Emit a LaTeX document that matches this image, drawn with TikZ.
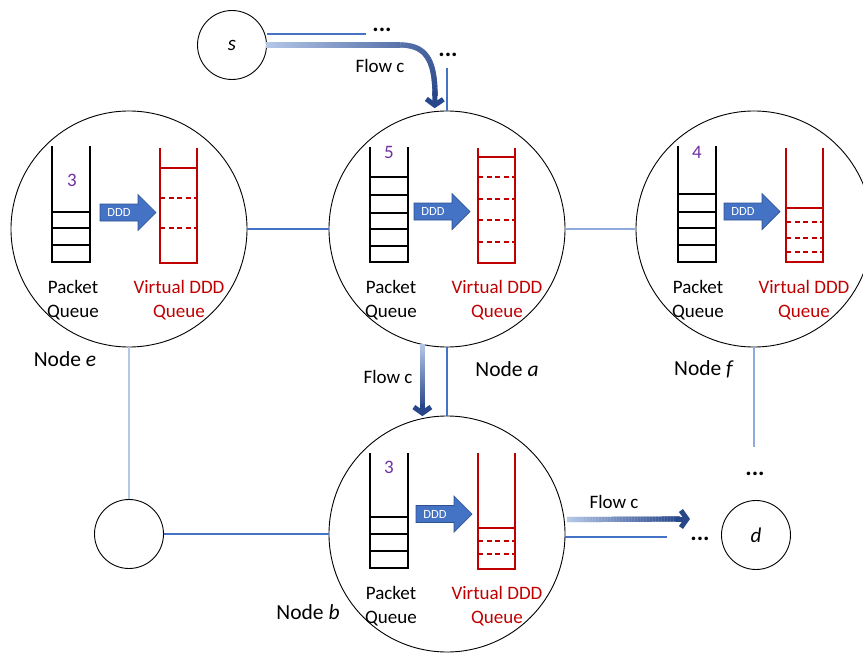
\documentclass[tikz,border=0pt]{standalone}
\usepackage{fontspec}
\setmainfont{Carlito}
\usetikzlibrary{arrows.meta,decorations.markings,calc}

\definecolor{linkblue}{RGB}{68,114,196}
\definecolor{linkpale}{RGB}{143,170,220}
\definecolor{linklight}{RGB}{180,199,231}
\definecolor{flowlight}{RGB}{180,199,231}
\definecolor{flowdark}{RGB}{40,70,138}
\definecolor{vqred}{RGB}{192,0,0}
\definecolor{countpurple}{RGB}{112,48,160}
\definecolor{dddfill}{RGB}{68,114,196}
\definecolor{dddedge}{RGB}{47,82,143}

% packet queue: left x, top y, bottom y, list of cell lines
\newcommand{\packetqueue}[4]{%
  \draw[qline] (#1,#2) -- (#1,#3) -- ({#1+38},#3) -- ({#1+38},#2);
  \foreach \qy in {#4} {\draw[qline] (#1,\qy) -- ({#1+38},\qy);}
}
% virtual DDD queue: left x, top y, bottom y, solid fill line, list of dashed lines
\newcommand{\vdddqueue}[5]{%
  \draw[vqline] (#1,#2) -- (#1,#3) -- ({#1+37},#3) -- ({#1+37},#2);
  \draw[vqline] (#1,#4) -- ({#1+37},#4);
  \foreach \qy in {#5} {\draw[vqdash] (#1,\qy) -- ({#1+37},\qy);}
}
% block arrow labelled DDD: node name, left x, middle y
\newcommand{\dddarrow}[3]{%
  \draw[fill=dddfill, draw=dddedge, line width=0.7pt, line join=miter]
    (#2,{#3-8.5}) -- ({#2+38},{#3-8.5}) -- ({#2+38},{#3-18}) -- ({#2+56},#3)
    -- ({#2+38},{#3+18}) -- ({#2+38},{#3+8.5}) -- (#2,{#3+8.5}) -- cycle;
  \node[dddtext] (#1) at ({#2+19},#3) {DDD};
}

\begin{document}
\begin{tikzpicture}[x=1pt, y=-1pt,
  font=\fontsize{19}{24}\selectfont,
  router/.style={circle, draw=black, line width=0.9pt, minimum size=236pt, inner sep=0pt},
  host/.style={circle, draw=black, line width=0.9pt, minimum size=69pt, inner sep=0pt,
    font=\fontsize{21}{24}\selectfont\itshape},
  link/.style={linkblue, line width=1.1pt},
  qline/.style={black, line width=1.1pt},
  vqline/.style={vqred, line width=1.8pt},
  vqdash/.style={vqred, line width=1.1pt, dash pattern=on 5pt off 3.5pt},
  caption/.style={align=center, inner sep=0pt},
  vcaption/.style={caption, text=vqred},
  nodename/.style={inner sep=0pt, font=\fontsize{21.5}{24}\selectfont},
  count/.style={text=countpurple, inner sep=0pt},
  dddtext/.style={text=white, inner sep=0pt, font=\fontsize{12.5}{14}\selectfont},
  ellip/.style={inner sep=0pt, font=\fontsize{24}{24}\selectfont\bfseries},
  flowband/.style={decorate, decoration={markings,
    mark=between positions 0 and 1 step 0.6pt with {
      \pgfmathsetmacro\flowpct{\pgfkeysvalueof{/pgf/decoration/mark info/distance from start}/\pgfdecoratedpathlength*100}
      \fill[flowdark!\flowpct!flowlight] (-0.5pt,-2.6pt) rectangle (0.5pt,2.6pt);
    }}},
  flowtip/.style={flowdark, line width=5pt, -{Straight Barb[length=6pt,width=17pt]}},
]
\useasboundingbox (0,0) rectangle (863,656);

% routers and hosts
\node[router] (e) at (129,229) {};
\node[router] (a) at (447,229) {};
\node[router] (f) at (754,229) {};
\node[router] (b) at (447,534) {};
\node[host] (s) at (232,45) {s};
\node[host] (g) at (129,534) {};
\node[host] (d) at (756,535) {d};

% loose ends of links
\coordinate (sline) at (366,34);
\coordinate (aup) at (447,68);
\coordinate (fdown) at (754,447);
\coordinate (bline) at (667,537);
\coordinate (flowend) at (690,519);

% links
\draw[link] (s.east |- sline) -- (sline);
\draw[link] (a.north) -- (aup);
\draw[link] (e.east) -- (a.west);
\draw[link, linkpale] (a.east) -- (f.west);
\draw[link] (a.south) -- (b.north);
\draw[link, linklight] (e.south) -- (g.north);
\draw[link] (g.east) -- (b.west);
\draw[link] (b.east |- bline) -- (bline);
\draw[link, linkpale] (f.south) -- (fdown);

% continuation dots
\node[ellip] (dotsS) at (382,30) {...};
\node[ellip] (dotsA) at (448,55) {...};
\node[ellip] (dotsF) at (755,474) {...};
\node[ellip] (dotsB) at (700,539) {...};

% flow c
\path[flowband] (s.east) -- (400,45) .. controls (426,45) and (435,60) .. (435,96);
\draw[flowtip] (435,92) -- ($(a.96)+(0,-3)$);
\node (flowS) at (380,66) {Flow c};

\path[flowband] (a.-102) -- ($(b.102)+(0,-10)$);
\draw[flowtip] ($(b.102)+(0,-14)$) -- ($(b.102)+(0,-2)$);
\node (flowA) at (388,377) {Flow c};

\path[flowband] ($(b.7.3)+(3,0)$) -- ($(flowend)+(-10,0)$);
\draw[flowtip] ($(flowend)+(-14,0)$) -- (flowend);
\node (flowB) at (614,502) {Flow c};

% node e
\packetqueue{52}{146}{262}{212,228,245}
\vdddqueue{160}{148}{263}{168}{198,228}
\dddarrow{dddE}{100}{212.5}
\node[count] (cntE) at (72,180) {3};
\node[caption] (pqE) at (73,300) {Packet\\Queue};
\node[vcaption] (vqE) at (179,300) {Virtual DDD\\Queue};
\node[nodename] (lblE) at (65,359) {Node \textit{e}};

% node a
\packetqueue{370}{147}{262}{177,195,213,229,246}
\vdddqueue{478}{148}{263}{157}{177,199,220,242}
\dddarrow{dddA}{414}{211.5}
\node[count] (cntA) at (389,152) {5};
\node[caption] (pqA) at (391,300) {Packet\\Queue};
\node[vcaption] (vqA) at (497,300) {Virtual DDD\\Queue};
\node[nodename] (lblA) at (507,369) {Node \textit{a}};

% node f
\packetqueue{678}{146}{262}{194,212,228,245}
\vdddqueue{786}{148}{262}{208}{222,238,252}
\dddarrow{dddF}{724}{211.5}
\node[count] (cntF) at (697,152) {4};
\node[caption] (pqF) at (698,300) {Packet\\Queue};
\node[vcaption] (vqF) at (804,300) {Virtual DDD\\Queue};
\node[nodename] (lblF) at (704,369) {Node \textit{f}};

% node b
\packetqueue{370}{453}{568}{517,534,551}
\vdddqueue{478}{453}{569}{528}{541,554}
\dddarrow{dddB}{416}{514}
\node[count] (cntB) at (389,467) {3};
\node[caption] (pqB) at (391,606) {Packet\\Queue};
\node[vcaption] (vqB) at (497,606) {Virtual DDD\\Queue};
\node[nodename] (lblB) at (308,612) {Node \textit{b}};
\end{tikzpicture}
\end{document}
